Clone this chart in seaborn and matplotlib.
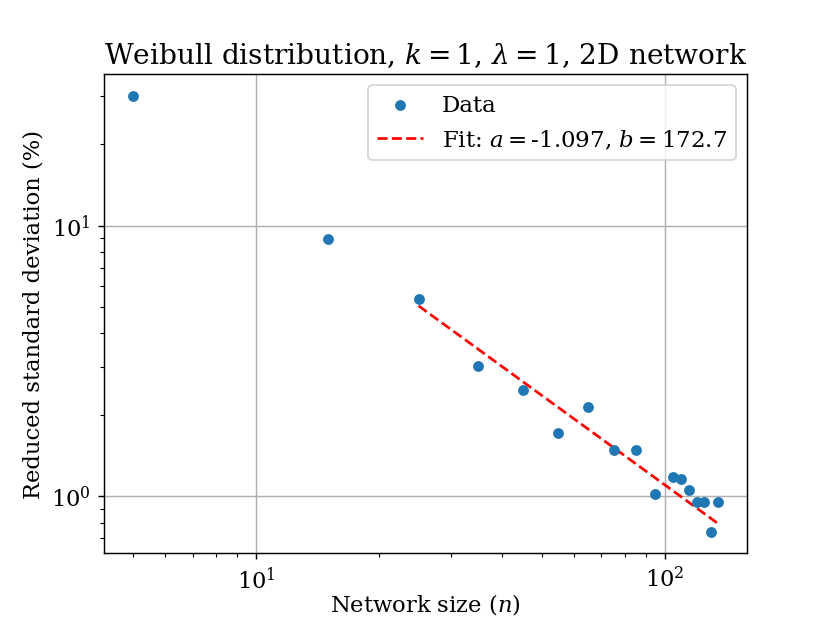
import numpy as np
import pandas as pd
import seaborn as sns
import matplotlib.pyplot as plt

# data
network_size = [5, 15, 25, 35, 45, 55, 65, 75, 85, 95, 105, 110, 115, 120, 125, 130, 135]
reduced_std = [30.2, 8.95, 5.38, 3.04, 2.48, 1.71, 2.13, 1.48, 1.48, 1.02, 1.175, 1.155,
               1.06, 0.953, 0.953, 0.741, 0.953]
fit_a = -1.097
fit_b = 172.7
fit_start = 25

plt.rcParams['font.family'] = ['DejaVu Serif']
plt.rcParams['mathtext.fontset'] = 'dejavuserif'

df = pd.DataFrame({'n': network_size, 'std': reduced_std})
fit_df = df[df['n'] >= fit_start].copy()
fit_df['fit'] = fit_b * fit_df['n'] ** fit_a

fig, ax = plt.subplots(figsize=(6.385, 4.792), dpi=130)
sns.scatterplot(data=df, x='n', y='std', ax=ax, s=36, linewidth=0, color='#1f77b4',
                label='Data', zorder=3)
sns.lineplot(data=fit_df, x='n', y='fit', ax=ax, color='red', linestyle='--', linewidth=1.5,
             label=f'Fit: $a = ${fit_a}, $b = ${fit_b}', zorder=2)
ax.set_xscale('log')
ax.set_yscale('log')
ax.grid(True, which='major', color='#b0b0b0', linewidth=0.8)
ax.set_xlabel('Network size ($n$)', fontsize=12.5, labelpad=-1)
ax.set_ylabel('Reduced standard deviation (%)', fontsize=12.5)
ax.set_title(r'Weibull distribution, $k = 1$, $\lambda = 1$, 2D network', fontsize=15.5)
ax.tick_params(labelsize=12.5)
ax.legend(loc='upper right', fontsize=12.7)
plt.savefig('out.png')
